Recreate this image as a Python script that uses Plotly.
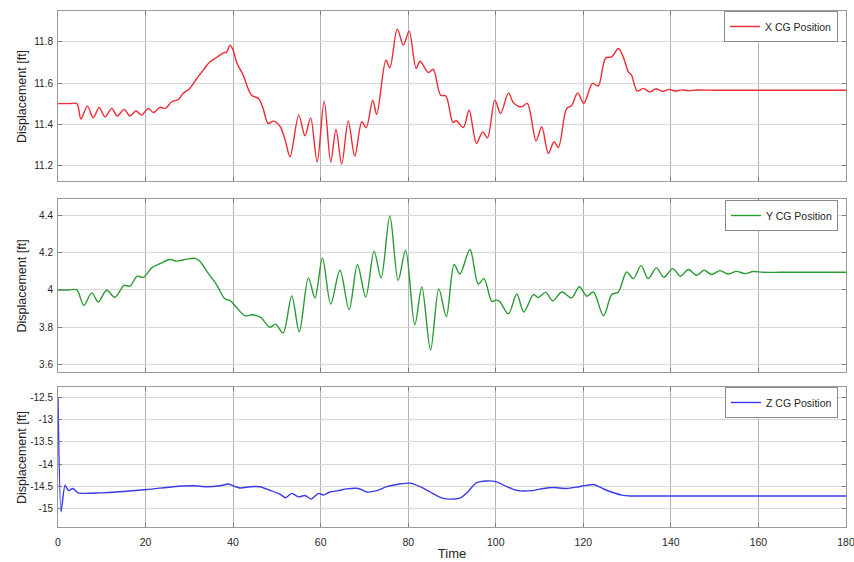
import plotly.graph_objects as go

# ---- CG displacement histories (time in s, displacement in ft) ----
x_time = [0, 2.5, 4.3, 5.25, 6.7, 8.07, 9.4, 10.7, 12.3, 13.5, 15.1, 16.4, 17.8, 19.1, 20.6, 21.8,
          23.3, 24.5, 26.0, 27.5, 28.6, 30.1, 31.7, 33.2, 34.7, 36.2, 37.8, 38.5, 39.3, 40.0,
          40.8, 42.3, 44.2, 45.8, 46.8, 48.0, 49.2, 50.7, 51.9, 53.0, 55.0, 56.4, 57.7, 59.2,
          60.8, 62.3, 63.5, 64.8, 66.3, 67.8, 69.4, 70.4, 71.9, 72.8, 74.9, 75.8, 77.5, 78.9,
          80.2, 81.8, 82.7, 84.6, 85.7, 87.4, 88.6, 90.2, 91.0, 92.6, 93.9, 95.6, 97.0, 98.1,
          99.8, 101.1, 102.9, 104.0, 105.9, 107.2, 109.2, 110.5, 112.0, 113.3, 114.3, 116.2,
          117.3, 118.7, 120.1, 122.1, 123.4, 125.1, 126.5, 128.0, 129.1, 130.3, 131.0, 132.3,
          133.7, 135.2, 136.6, 138.1, 139.6, 141.0, 142.5, 144.0, 146.0, 150.0, 160.0, 170.0,
          180.0]
x_cg = [11.5, 11.5, 11.5, 11.425, 11.488, 11.431, 11.482, 11.436, 11.477, 11.44, 11.472, 11.44,
        11.464, 11.444, 11.477, 11.457, 11.482, 11.477, 11.509, 11.52, 11.55, 11.574, 11.622,
        11.663, 11.703, 11.724, 11.747, 11.75, 11.784, 11.76, 11.70, 11.638, 11.541, 11.525,
        11.48, 11.404, 11.415, 11.39, 11.323, 11.242, 11.444, 11.344, 11.431, 11.217, 11.512,
        11.217, 11.375, 11.206, 11.415, 11.245, 11.412, 11.383, 11.517, 11.448, 11.711, 11.674,
        11.862, 11.784, 11.852, 11.671, 11.706, 11.651, 11.667, 11.541, 11.537, 11.409, 11.417,
        11.384, 11.468, 11.307, 11.363, 11.334, 11.517, 11.452, 11.552, 11.506, 11.484, 11.501,
        11.319, 11.388, 11.258, 11.315, 11.287, 11.477, 11.49, 11.552, 11.501, 11.598, 11.586,
        11.722, 11.727, 11.768, 11.727, 11.654, 11.638, 11.561, 11.574, 11.557, 11.572, 11.559,
        11.569, 11.561, 11.567, 11.563, 11.566, 11.565, 11.565, 11.565, 11.565]

y_time = [0, 2.5, 4.3, 5.9, 7.7, 9.2, 11.1, 13.0, 15.1, 16.4, 18.1, 19.5, 21.4, 23.3, 25.6, 27.1,
          29.4, 31.3, 32.4, 34.0, 36.2, 38.1, 39.3, 40.8, 42.7, 44.4, 46.3, 48.4, 49.7, 51.4,
          53.4, 55.1, 57.2, 58.7, 60.4, 62.3, 64.4, 66.5, 68.4, 70.3, 72.2, 73.8, 75.8, 77.7,
          79.4, 81.5, 83.1, 85.1, 87.0, 88.7, 90.5, 91.8, 94.1, 96.0, 97.3, 99.1, 100.0, 100.8,
          102.9, 104.8, 106.4, 108.6, 109.7, 111.4, 113.0, 115.1, 117.3, 119.1, 120.8, 122.3,
          124.6, 126.5, 128.0, 129.9, 131.4, 133.2, 134.8, 136.7, 138.4, 140.4, 142.2, 144.0,
          145.9, 147.6, 149.3, 151.2, 153.1, 155.0, 156.9, 158.8, 161.0, 165.0, 170.0, 180.0]
y_cg = [4.0, 4.0, 4.0, 3.917, 3.984, 3.935, 3.998, 3.96, 4.025, 4.02, 4.074, 4.068, 4.119, 4.142,
        4.164, 4.155, 4.166, 4.17, 4.155, 4.10, 4.029, 3.953, 3.943, 3.905, 3.861, 3.866, 3.852,
        3.799, 3.816, 3.768, 3.968, 3.774, 4.065, 3.957, 4.173, 3.924, 4.106, 3.894, 4.137,
        3.962, 4.209, 4.065, 4.398, 4.052, 4.214, 3.812, 4.016, 3.677, 4.006, 3.857, 4.137,
        4.086, 4.218, 4.032, 4.061, 3.938, 3.945, 3.94, 3.872, 3.978, 3.881, 3.975, 3.96, 3.987,
        3.942, 3.989, 3.957, 4.017, 3.966, 3.989, 3.861, 3.975, 3.989, 4.097, 4.061, 4.131,
        4.061, 4.119, 4.068, 4.115, 4.074, 4.11, 4.079, 4.106, 4.083, 4.104, 4.086, 4.10, 4.088,
        4.099, 4.095, 4.095, 4.095, 4.095]

z_time = [0, 0.7, 1.6, 2.4, 3.4, 4.6, 9.6, 20.3, 26.3, 30.9, 33.9, 37.0, 38.9, 40.0, 41.6,
          43.9, 46.1, 48.4, 50.7, 52.0, 53.4, 54.9, 56.4, 57.9, 59.5, 60.6, 62.1, 64.0, 65.9,
          68.6, 70.5, 72.8, 75.1, 78.1, 80.4, 82.7, 85.0, 87.3, 89.2, 91.8, 93.3, 95.6, 97.9,
          100.2, 102.5, 105.1, 108.2, 110.9, 113.1, 116.2, 119.0, 122.3, 125.3, 128.8, 130.7,
          135.0, 145.0, 160.0, 180.0]
z_cg = [-12.5, -15.08, -14.475, -14.6, -14.55, -14.65, -14.65, -14.575, -14.51, -14.49,
        -14.51, -14.49, -14.45, -14.49, -14.54, -14.51, -14.51, -14.59, -14.68, -14.76, -14.66,
        -14.74, -14.71, -14.79, -14.66, -14.70, -14.63, -14.60, -14.56, -14.55, -14.63, -14.60,
        -14.51, -14.45, -14.43, -14.51, -14.63, -14.75, -14.79, -14.77, -14.66, -14.42, -14.38,
        -14.40, -14.51, -14.60, -14.60, -14.55, -14.53, -14.55, -14.51, -14.46, -14.59, -14.70,
        -14.72, -14.72, -14.72, -14.72, -14.72]

# ---- axis ticks ----
time_ticks = [0, 20, 40, 60, 80, 100, 120, 140, 160, 180]
x_ticks = [11.2, 11.4, 11.6, 11.8]
x_tick_text = ["11.2", "11.4", "11.6", "11.8"]
y_ticks = [3.6, 3.8, 4.0, 4.2, 4.4]
y_tick_text = ["3.6", "3.8", "4", "4.2", "4.4"]
z_ticks = [-15, -14.5, -14, -13.5, -13, -12.5]
z_tick_text = ["-15", "-14.5", "-14", "-13.5", "-13", "-12.5"]

FONT = "Liberation Sans, Arial, Helvetica, sans-serif"
TXT = "#262626"

# panel domains (paper fraction, bottom to top)
DOM1 = [0.6705, 1.0]
DOM2 = [0.3004, 0.6357]
DOM3 = [0.0, 0.2713]

fig = go.Figure()
fig.add_trace(go.Scatter(x=x_time, y=x_cg, mode="lines", name="X CG Position",
                         line=dict(color="#ee2a35", width=1.4, shape="spline", smoothing=0.9),
                         xaxis="x", yaxis="y", legend="legend"))
fig.add_trace(go.Scatter(x=y_time, y=y_cg, mode="lines", name="Y CG Position",
                         line=dict(color="#2a9a35", width=1.4, shape="spline", smoothing=0.9),
                         xaxis="x2", yaxis="y2", legend="legend2"))
fig.add_trace(go.Scatter(x=z_time, y=z_cg, mode="lines", name="Z CG Position",
                         line=dict(color="#3a3ae8", width=1.4, shape="spline", smoothing=0.6),
                         xaxis="x3", yaxis="y3", legend="legend3"))

def xax(anchor, show_labels):
    return dict(range=[0, 180], tickvals=time_ticks, showticklabels=show_labels,
                anchor=anchor, domain=[0, 1], showgrid=True, gridcolor="#b4b4b4",
                gridwidth=1, zeroline=False, showline=True, linecolor="#9a9a9a",
                mirror="ticks", ticks="inside", ticklen=4, tickcolor="#7a7a7a",
                ticklabelstandoff=5, ticklabeloverflow="allow", automargin=False,
                tickfont=dict(family=FONT, size=10.5, color=TXT))

def yax(anchor, dom, rng, vals, text):
    return dict(range=rng, tickvals=vals, ticktext=text, anchor=anchor, domain=dom,
                showgrid=True, gridcolor="#d6d6d6", gridwidth=1, zeroline=False,
                showline=True, linecolor="#9a9a9a", mirror="ticks", ticks="inside",
                ticklen=4, tickcolor="#7a7a7a", ticklabelstandoff=2, automargin=False,
                tickfont=dict(family=FONT, size=10, color=TXT))

def leg(ymid):
    return dict(x=0.9898, y=ymid, xanchor="right", yanchor="middle", bgcolor="white",
                bordercolor="#8a8a8a", borderwidth=1, itemwidth=30,
                font=dict(family=FONT, size=10.5, color=TXT),
                tracegroupgap=0, itemclick=False)

def ytitle(dom):
    return dict(text="Displacement [ft]", textangle=-90, xref="paper", yref="paper",
                x=-0.0457, y=(dom[0] + dom[1]) / 2, xanchor="center", yanchor="middle",
                showarrow=False, font=dict(family=FONT, size=12.5, color=TXT))

xa3 = xax("y3", True)
xa3["title"] = dict(text="Time", standoff=2, font=dict(family=FONT, size=13, color=TXT))

fig.update_layout(
    width=854, height=562,
    margin=dict(l=58, r=8, t=11, b=35),
    paper_bgcolor="white", plot_bgcolor="white",
    showlegend=True,
    xaxis=xax("y", False),
    xaxis2=xax("y2", False),
    xaxis3=xa3,
    yaxis=yax("x", DOM1, [11.124, 11.95], x_ticks, x_tick_text),
    yaxis2=yax("x2", DOM2, [3.558, 4.49], y_ticks, y_tick_text),
    yaxis3=yax("x3", DOM3, [-15.42, -12.26], z_ticks, z_tick_text),
    legend=leg(0.970),
    legend2=leg(0.6037),
    legend3=leg(0.2413),
    annotations=[ytitle(DOM1), ytitle(DOM2), ytitle(DOM3)],
)

fig.write_html("out.html")
